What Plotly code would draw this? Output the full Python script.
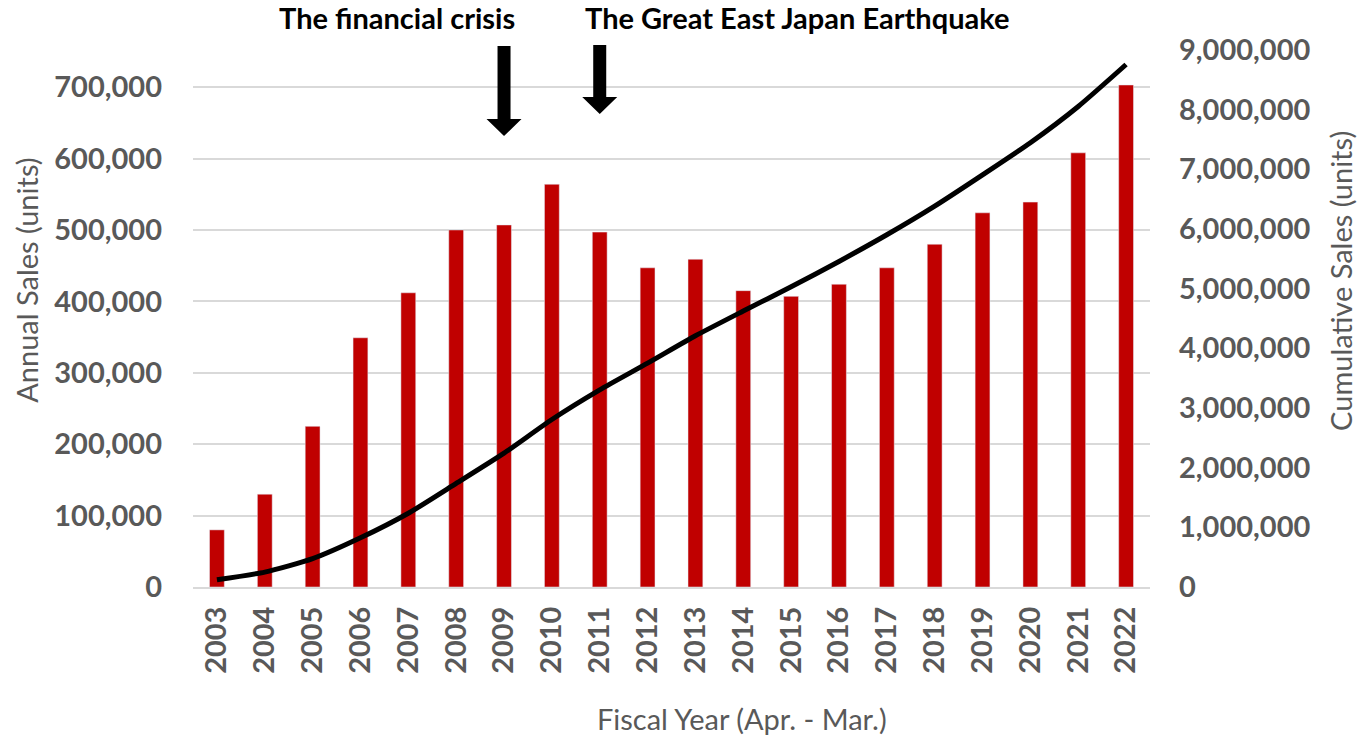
import plotly.graph_objects as go

# Fiscal years and sales figures (units)
years = [2003, 2004, 2005, 2006, 2007, 2008, 2009, 2010, 2011, 2012,
         2013, 2014, 2015, 2016, 2017, 2018, 2019, 2020, 2021, 2022]
annual_sales = [80000, 130000, 225000, 349000, 412000, 500000, 507000, 564000, 497000, 447000,
                459000, 415000, 407000, 424000, 447000, 480000, 524000, 539000, 608000, 703000]
cumulative_sales = [120000, 250000, 475000, 824000, 1236000, 1736000, 2243000, 2807000, 3304000, 3751000,
                    4210000, 4625000, 5032000, 5456000, 5903000, 6383000, 6907000, 7446000, 8054000, 8757000]
year_labels = [str(y) for y in years]

left_ticks = [0, 100000, 200000, 300000, 400000, 500000, 600000, 700000]
right_ticks = [0, 1000000, 2000000, 3000000, 4000000, 5000000, 6000000, 7000000, 8000000, 9000000]

events = [(2009, "The financial crisis"), (2011, "The Great East Japan Earthquake")]

GREY = "#595959"
RED = "#c00000"
FONT = "Lato"

fig = go.Figure()
fig.add_trace(go.Bar(x=years, y=annual_sales, marker_color=RED, width=0.31,
                     name="Annual Sales", yaxis="y"))
fig.add_trace(go.Scatter(x=years, y=cumulative_sales, mode="lines",
                         line=dict(color="black", width=5, shape="spline", smoothing=0.6),
                         name="Cumulative Sales", yaxis="y2"))

fig.update_layout(
    width=1357, height=736,
    margin=dict(l=193, r=207, t=50, b=149),
    paper_bgcolor="white", plot_bgcolor="white",
    showlegend=False,
    font=dict(family=FONT, color=GREY),
    xaxis=dict(
        range=[2002.5, 2022.5], tickvals=years, ticktext=year_labels,
        tickangle=-90, tickfont=dict(size=29, family=FONT, color=GREY, weight="bold"),
        showgrid=False, showline=True, linecolor="#d9d9d9", linewidth=2,
        ticks="", ticklabelstandoff=6, zeroline=False,
    ),
    yaxis=dict(
        range=[0, 752000], tickvals=left_ticks,
        ticktext=[f"{v:,}" for v in left_ticks],
        tickfont=dict(size=29, family=FONT, color=GREY, weight="bold"),
        showgrid=True, gridcolor="#d9d9d9", gridwidth=2,
        zeroline=False, showline=False, ticks="", ticklabelstandoff=30,
    ),
    yaxis2=dict(
        range=[0, 9000000], tickvals=right_ticks,
        ticktext=[f"{v:,}" for v in right_ticks],
        tickfont=dict(size=29, family=FONT, color=GREY, weight="bold"),
        overlaying="y", side="right", showgrid=False, zeroline=False,
        showline=False, ticks="", ticklabelstandoff=28,
    ),
)

annotations = [
    dict(text="Annual Sales (units)", xref="paper", yref="paper", x=-0.1735, y=0.572,
         xanchor="center", yanchor="middle",
         textangle=-90, showarrow=False, font=dict(size=29, color=GREY, family=FONT)),
    dict(text="Cumulative Sales (units)", xref="paper", yref="paper", x=1.1996, y=0.57,
         xanchor="center", yanchor="middle",
         textangle=-90, showarrow=False, font=dict(size=29, color=GREY, family=FONT)),
    dict(text="Fiscal Year (Apr. - Mar.)", xref="paper", yref="paper", x=0.574, y=-0.244,
         xanchor="center", yanchor="middle",
         showarrow=False, font=dict(size=29, color=GREY, family=FONT)),
]
event_text_x = {2009: 397, 2011: 797}
for yr, label in events:
    annotations.append(dict(text=label, xref="paper", yref="paper",
                            x=(event_text_x[yr] - 193) / 957, y=1.06,
                            xanchor="center", yanchor="middle", showarrow=False,
                            font=dict(size=29, color="black", family=FONT, weight="bold")))
fig.update_layout(annotations=annotations)

# Downward block arrows over the event years (pixel-sized, anchored at the plot top)
arrow_dims = {2009: (4, -69, -86), 2011: (5, -47, -64)}
shapes = []
for yr, _ in events:
    top, head_start, tip = arrow_dims[yr]
    path = (f"M -6.5 {top} L 6.5 {top} L 6.5 {head_start} L 17.5 {head_start} "
            f"L 0 {tip} L -17.5 {head_start} L -6.5 {head_start} Z")
    shapes.append(dict(type="path", xref="x", yref="paper",
                       xsizemode="pixel", ysizemode="pixel",
                       xanchor=yr, yanchor=1, path=path,
                       fillcolor="black", line=dict(width=0)))
fig.update_layout(shapes=shapes)

fig.write_html("out.html")
